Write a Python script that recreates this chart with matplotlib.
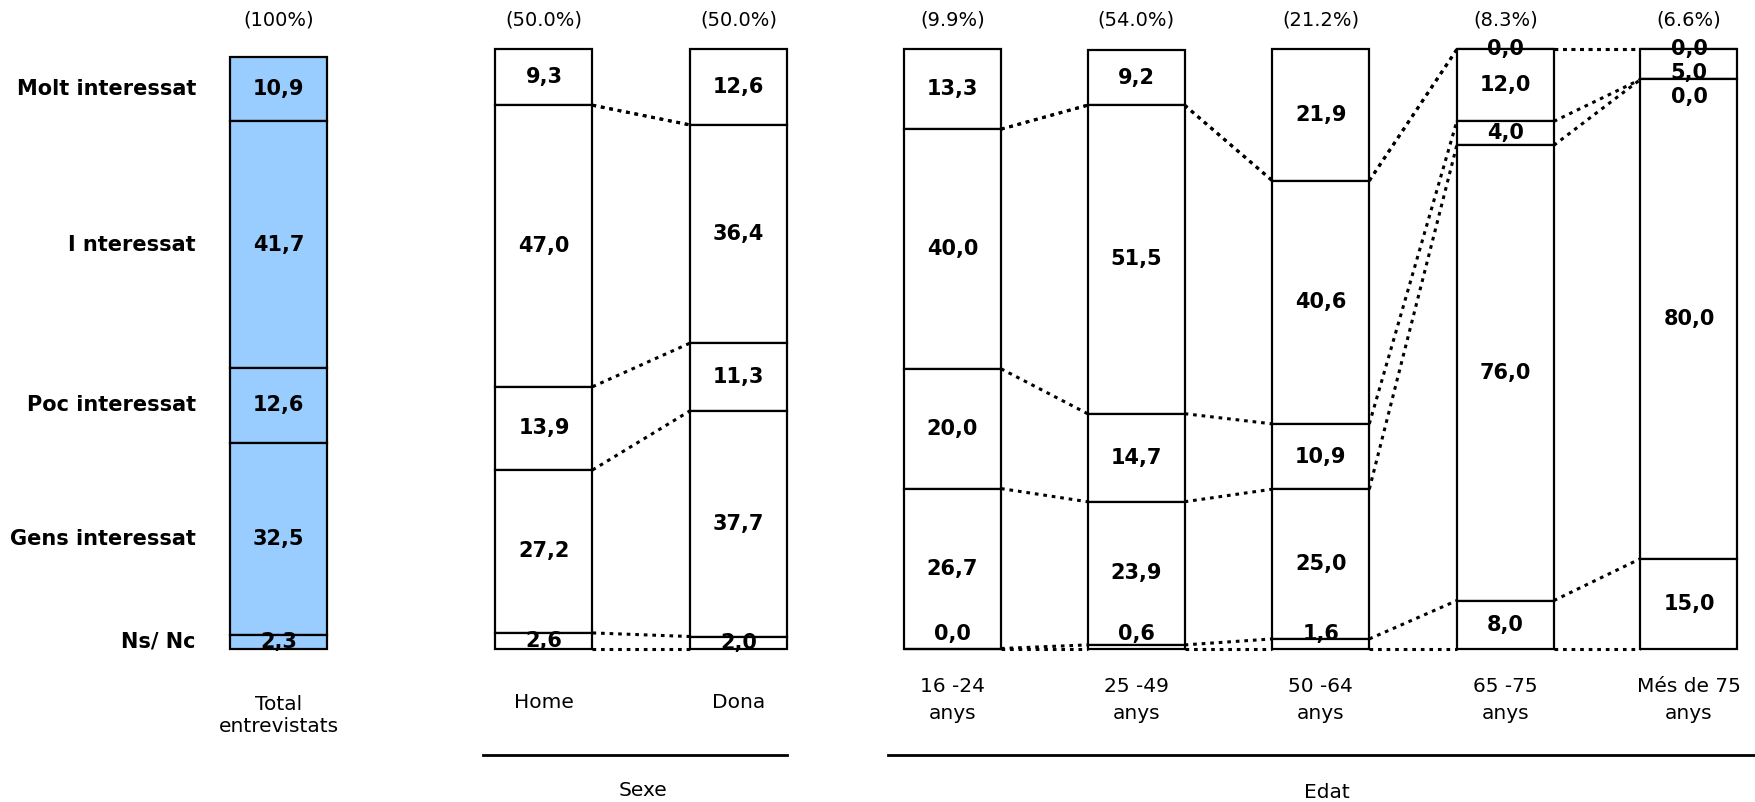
import matplotlib.pyplot as plt

categories = ['Molt interessat', 'I nteressat', 'Poc interessat', 'Gens interessat', 'Ns/ Nc']

total_values = [10.9, 41.7, 12.6, 32.5, 2.3]
total_share = '(100%)'
total_label = 'Total\nentrevistats'

sexe_labels = ['Home', 'Dona']
sexe_shares = ['(50.0%)', '(50.0%)']
sexe_values = [
    [9.3, 47.0, 13.9, 27.2, 2.6],
    [12.6, 36.4, 11.3, 37.7, 2.0],
]

edat_labels = ['16 -24\nanys', '25 -49\nanys', '50 -64\nanys', '65 -75\nanys', 'Més de 75\nanys']
edat_shares = ['(9.9%)', '(54.0%)', '(21.2%)', '(8.3%)', '(6.6%)']
edat_values = [
    [13.3, 40.0, 20.0, 26.7, 0.0],
    [9.2, 51.5, 14.7, 23.9, 0.6],
    [21.9, 40.6, 10.9, 25.0, 1.6],
    [0.0, 12.0, 4.0, 76.0, 8.0],
    [0.0, 5.0, 0.0, 80.0, 15.0],
]

# layout (pixels)
W, H = 1755, 802
base_px, top_px, total_top_px = 648.5, 49.5, 57.0
bar_w = 97
total_x = 278.7
sexe_x = [544.0, 738.7]
edat_x = [952.5, 1136.1, 1320.8, 1505.3, 1689.0]
FS = 14.5

plt.rcParams['font.family'] = 'DejaVu Sans'
fig = plt.figure(figsize=(W / 100, H / 100), dpi=100)

frame = fig.add_axes([0, 0, 1, 1])
frame.set_xlim(0, W)
frame.set_ylim(H, 0)
frame.axis('off')

ax = fig.add_axes([0, 1 - base_px / H, 1, (base_px - top_px) / H])
ax_t = fig.add_axes([0, 1 - base_px / H, 1, (base_px - total_top_px) / H])
for a in (ax, ax_t):
    a.set_xlim(0, W)
    a.set_ylim(0, 100)
    a.axis('off')
    a.patch.set_alpha(0)


def bottoms_of(values):
    return [sum(values[i + 1:]) for i in range(len(values))]


def draw_bar(a, x, values, color):
    bots = bottoms_of(values)
    bars = a.bar(x, values, bottom=bots, width=bar_w, color=color,
                 edgecolor='black', linewidth=1.6, zorder=3)
    for b in bars:
        b.set_clip_on(False)
    prev = 1e9
    for i, (v, b) in enumerate(zip(values, bots)):
        y = b + v / 2
        if i == len(values) - 1 and v < 2:
            y = 2.4
        y = min(y, prev - 4.0)
        prev = y
        a.text(x, y, f'{v:.1f}'.replace('.', ','), ha='center', va='center',
               fontsize=FS + 0.5, fontweight='bold', zorder=4)


def connect(a, xa, va, xb, vb):
    ba = [0] + bottoms_of(va)[::-1][1:] + [sum(va[1:])]
    bb = [0] + bottoms_of(vb)[::-1][1:] + [sum(vb[1:])]
    for ya, yb in zip(ba, bb):
        a.plot([xa + bar_w / 2, xb - bar_w / 2], [ya, yb], color='black',
               linewidth=2.2, linestyle=(0, (1.2, 1.6)), zorder=2,
               clip_on=False)


# total
draw_bar(ax_t, total_x, total_values, '#99CCFF')
for cat, v, b in zip(categories, total_values, bottoms_of(total_values)):
    ax_t.text(196, b + v / 2, cat, ha='right', va='center',
              fontsize=FS + 0.5, fontweight='bold')
frame.text(total_x, 20, total_share, ha='center', va='center', fontsize=FS - 0.5)
frame.text(total_x, 715, total_label, ha='center', va='center',
           fontsize=FS, linespacing=1.2)

# sexe
for i, (x, vals) in enumerate(zip(sexe_x, sexe_values)):
    draw_bar(ax, x, vals, 'white')
    if i < len(sexe_x) - 1:
        connect(ax, x, vals, sexe_x[i + 1], sexe_values[i + 1])
    frame.text(x, 20, sexe_shares[i], ha='center', va='center', fontsize=FS - 0.5)
    frame.text(x, 702, sexe_labels[i], ha='center', va='center', fontsize=FS)
frame.plot([483, 787], [755, 755], color='black', linewidth=2)
frame.text(643.5, 791, 'Sexe', ha='center', va='center', fontsize=FS)

# edat
for i, (x, vals) in enumerate(zip(edat_x, edat_values)):
    draw_bar(ax, x, vals, 'white')
    if i < len(edat_x) - 1:
        connect(ax, x, vals, edat_x[i + 1], edat_values[i + 1])
    frame.text(x, 20, edat_shares[i], ha='center', va='center', fontsize=FS - 0.5)
    frame.text(x, 700, edat_labels[i], ha='center', va='center',
               fontsize=FS, linespacing=1.5)
frame.plot([888, W], [755, 755], color='black', linewidth=2)
frame.text(1326.7, 792, 'Edat', ha='center', va='center', fontsize=FS)

fig.savefig('out.png', dpi=100, facecolor='white')
